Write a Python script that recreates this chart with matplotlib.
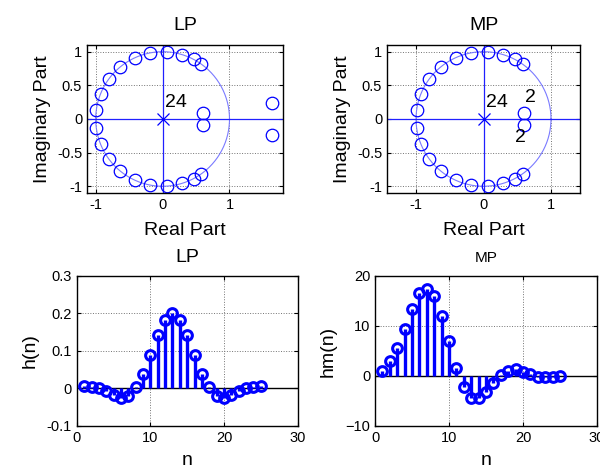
import numpy as np
import matplotlib
matplotlib.use("Agg")
from matplotlib import pyplot as plt

plt.rcParams['font.family'] = ['Liberation Sans', 'DejaVu Sans']

# angles (deg) of the zeros sitting on the unit circle, upper half
circle_zero_deg = [54.6, 62.3, 73.2, 86.6, 100.5, 114.4, 129.0, 143.2, 158.0, 172.2]
# extra zeros (upper half, mirrored below)
lp_extra = [(0.60, 0.09), (1.63, 0.245)]
mp_extra = [(0.60, 0.09)]  # double zero
n_poles = 24

n = np.arange(1, 26)
h = [0.006, 0.003, 0.001, -0.007, -0.018, -0.025, -0.021, 0.003, 0.038, 0.090,
     0.143, 0.183, 0.200, 0.183, 0.143, 0.090, 0.038, 0.003, -0.021, -0.025,
     -0.018, -0.007, 0.001, 0.003, 0.006]
hm = [0.9, 2.9, 5.6, 9.4, 13.4, 16.5, 17.4, 15.9, 11.9, 7.0,
      1.6, -2.3, -4.4, -4.4, -3.2, -1.5, 0.1, 0.9, 1.3, 0.8,
      0.3, -0.3, -0.3, -0.3, 0.0]

fig = plt.figure(figsize=(6, 4.69), dpi=100)
TICK = 10.5
LAB = 14


def style(ax):
    ax.tick_params(direction='in', top=True, right=True, labelsize=TICK, length=3, width=0.8)
    for s in ax.spines.values():
        s.set_linewidth(1.0)
    ax.grid(True, color='0.45', linestyle=':', linewidth=0.7)
    ax.set_axisbelow(True)


def zplane(ax, extra, xlim, title, mult_labels):
    style(ax)
    t = np.linspace(0, 2 * np.pi, 300)
    ax.plot(np.cos(t), np.sin(t), color='#7a7aff', lw=0.8)
    ax.axhline(0, color='#2020ff', lw=0.9)
    ax.axvline(0, color='#2020ff', lw=0.9)
    ang = np.radians(circle_zero_deg)
    zx = list(np.cos(ang)) + list(np.cos(ang))
    zy = list(np.sin(ang)) + list(-np.sin(ang))
    for (x, y) in extra:
        zx += [x, x]
        zy += [y, -y]
    ax.plot(zx, zy, 'o', mfc='none', mec='blue', ms=9, mew=0.9)
    ax.plot([0], [0], 'x', color='blue', ms=8, mew=0.9)
    ax.text(0.04, 0.12, str(n_poles), fontsize=LAB, ha='left', va='bottom')
    for (x, y, s) in mult_labels:
        ax.text(x, y, s, fontsize=LAB, ha='left', va='center')
    ax.set_xlim(*xlim)
    ax.set_ylim(-1.1, 1.1)
    ax.set_xticks([-1, 0, 1])
    ax.set_yticks([-1, -0.5, 0, 0.5, 1])
    ax.set_yticklabels(['-1', '-0.5', '0', '0.5', '1'])
    ax.set_xticklabels(['-1', '0', '1'])
    ax.set_title(title, fontsize=LAB, pad=11)
    ax.set_xlabel('Real Part', fontsize=LAB, labelpad=7)
    ax.set_ylabel('Imaginary Part', fontsize=LAB, labelpad=4)


ax1 = fig.add_axes([0.145, 0.5885, 0.3267, 0.3156])
zplane(ax1, lp_extra, (-1.13, 1.8), 'LP', [])
ax2 = fig.add_axes([0.645, 0.5885, 0.3217, 0.3156])
zplane(ax2, mp_extra, (-1.43, 1.43), 'MP', [(0.62, 0.32, '2'), (0.46, -0.28, '2')])


def stemplot(ax, y, ylim, yticks, title, tsize, ylabel):
    style(ax)
    ax.axhline(0, color='black', lw=1.0, zorder=2)
    ax.vlines(n, 0, y, color='blue', lw=2.4, zorder=3)
    ax.plot(n, y, 'o', mfc='none', mec='blue', ms=7, mew=2.2, zorder=4)
    ax.set_xlim(0, 30)
    ax.set_ylim(*ylim)
    ax.set_xticks([0, 10, 20, 30])
    ax.set_yticks(yticks)
    ax.set_title(title, fontsize=tsize, pad=10)
    ax.set_xlabel('n', fontsize=LAB, labelpad=5)
    ax.set_ylabel(ylabel, fontsize=LAB, labelpad=6)


ax3 = fig.add_axes([0.128, 0.0917, 0.368, 0.32])
stemplot(ax3, h, (-0.1, 0.3), [-0.1, 0, 0.1, 0.2, 0.3], 'LP', LAB, 'h(n)')
ax3.set_yticklabels(['-0.1', '0', '0.1', '0.2', '0.3'])
ax4 = fig.add_axes([0.625, 0.0917, 0.37, 0.32])
stemplot(ax4, hm, (-10, 20), [-10, 0, 10, 20], 'MP', 11, 'hm(n)')

fig.savefig('out.png', dpi=100)
